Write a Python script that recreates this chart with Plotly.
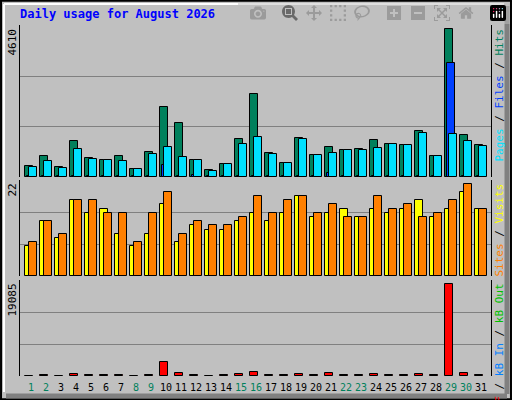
import plotly.graph_objects as go

days = list(range(1, 32))
weekend = [1, 2, 8, 9, 15, 16, 22, 23, 29, 30]

hits = [326, 631, 296, 1089, 570, 509, 631, 235, 753, 2126, 1638, 509, 204, 387, 1150, 2522,
        723, 418, 1180, 662, 906, 814, 845, 1119, 997, 967, 1394, 631, 4505, 1272, 967]
files = [30, 30, 30, 30, 30, 30, 30, 30, 30, 366, 30, 60, 30, 30, 30, 30,
         30, 30, 30, 30, 120, 30, 30, 30, 30, 30, 30, 30, 3468, 30, 30]
pages = [296, 479, 265, 845, 540, 509, 479, 235, 692, 906, 601, 509, 174, 387, 997, 1211,
         692, 418, 1150, 662, 723, 814, 814, 875, 997, 967, 1333, 631, 1302, 1089, 936]
visits = [6.8, 12.6, 8.7, 17.4, 14.5, 15.4, 9.6, 6.8, 9.6, 16.4, 7.8, 11.7, 10.5, 10.5, 12.6, 14.5,
          12.6, 14.5, 18.3, 13.5, 14.5, 15.4, 13.5, 15.4, 14.5, 15.4, 17.4, 13.5, 15.4, 19.2, 15.4]
sites = [7.8, 12.6, 9.6, 17.4, 17.4, 14.5, 14.5, 7.8, 14.5, 19.2, 9.6, 12.6, 11.7, 11.7, 13.5, 18.3,
         14.5, 17.4, 18.3, 14.5, 16.4, 13.5, 13.5, 18.3, 15.4, 16.4, 13.5, 14.5, 17.4, 21.0, 15.4]
kbytes = [60, 250, 60, 450, 250, 250, 250, 60, 250, 2700, 650, 250, 60, 250, 450, 850,
          250, 250, 450, 250, 650, 250, 250, 450, 250, 250, 450, 250, 18300, 650, 250]

GREEN = '#00805C'
FONT = 'DejaVu Sans Mono'
px = 1 / 15.0  # one pixel in day units

fig = go.Figure()

def bars(y, color, off, axis):
    fig.add_trace(go.Bar(x=days, y=y, marker=dict(color=color, line=dict(color='black', width=1)),
                         offset=off * px, width=8 * px, xaxis='x', yaxis=axis, showlegend=False))

bars(hits, GREEN, -6, 'y')
bars(files, '#0040FF', -4, 'y')
bars(pages, '#00E0FF', -2, 'y')
bars(visits, '#FFFF00', -6, 'y2')
bars(sites, '#FF8000', -2, 'y2')
bars(kbytes, '#FF0000', -6, 'y3')

grid = dict(showticklabels=False, ticks='', gridcolor='#808080', gridwidth=1,
            zeroline=False, showline=True, linecolor='black', mirror=True, fixedrange=True)

fig.update_layout(
    width=512, height=400, margin=dict(l=0, r=0, t=0, b=0),
    paper_bgcolor='#C0C0C0', plot_bgcolor='#C0C0C0', barmode='overlay', bargap=0,
    xaxis=dict(range=[1 - 11 * px, 31 + 10 * px], domain=[20 / 512, 491 / 512], visible=False,
               anchor='y3'),
    yaxis=dict(range=[0, 4640], domain=[223 / 400, 375 / 400], tickvals=[4610 / 3, 2 * 4610 / 3], **grid),
    yaxis2=dict(range=[0, 22], domain=[124 / 400, 220 / 400], tickvals=[22 / 3, 44 / 3], **grid),
    yaxis3=dict(range=[0, 19085], domain=[24 / 400, 120 / 400], tickvals=[19085 / 3, 2 * 19085 / 3], **grid),
)

# frame / bevel
fig.add_shape(type='rect', xref='paper', yref='paper', x0=0.002, y0=0.002, x1=0.998, y1=0.998,
              line=dict(color='black', width=2))
fig.add_shape(type='line', xref='paper', yref='paper', x0=4 / 512, y0=396 / 400, x1=504 / 512, y1=396 / 400,
              line=dict(color='white', width=2))
fig.add_shape(type='line', xref='paper', yref='paper', x0=4 / 512, y0=8 / 400, x1=4 / 512, y1=396 / 400,
              line=dict(color='white', width=2))
fig.add_shape(type='line', xref='paper', yref='paper', x0=507 / 512, y0=6 / 400, x1=507 / 512, y1=394 / 400,
              line=dict(color='#808080', width=5))
fig.add_shape(type='line', xref='paper', yref='paper', x0=6 / 512, y0=4 / 400, x1=507 / 512, y1=4 / 400,
              line=dict(color='#808080', width=5))

fig.add_annotation(text='<b>Daily usage for August 2026</b>', xref='paper', yref='paper',
                   x=18 / 512, y=386 / 400, xanchor='left', yanchor='middle', showarrow=False,
                   font=dict(family=FONT, size=12, color='#0000FF'))

for label, ytop in [('4610', 375), ('22', 220), ('19085', 120)]:
    fig.add_annotation(text=label, xref='paper', yref='paper', x=12 / 512, y=(ytop - 2) / 400,
                       xanchor='center', yanchor='top', textangle=-90, showarrow=False,
                       font=dict(family=FONT, size=11, color='black'))

right = [
    ('<span style="color:#00E0FF">Pages</span> / <span style="color:#0040FF">Files</span> / '
     '<span style="color:#00805C">Hits</span>', 375),
    ('<span style="color:#FF8000">Sites</span> / <span style="color:#FFFF00">Visits</span>', 220),
    ('<span style="color:#FF0000">kB F</span> / <span style="color:#0080FF">kB In</span> / '
     '<span style="color:#00C000">kB Out</span>', 120),
]
for label, ytop in right:
    fig.add_annotation(text=label, xref='paper', yref='paper', x=499 / 512, y=(ytop - 2) / 400,
                       xanchor='center', yanchor='top', textangle=-90, showarrow=False,
                       font=dict(family=FONT, size=11, color='black'))

for d in days:
    fig.add_annotation(text=str(d), x=d, xref='x', yref='paper', y=13 / 400, yanchor='middle',
                       showarrow=False,
                       font=dict(family=FONT, size=10, color=GREEN if d in weekend else 'black'))

fig.write_html("out.html", post_script="document.body.style.margin='0';")
